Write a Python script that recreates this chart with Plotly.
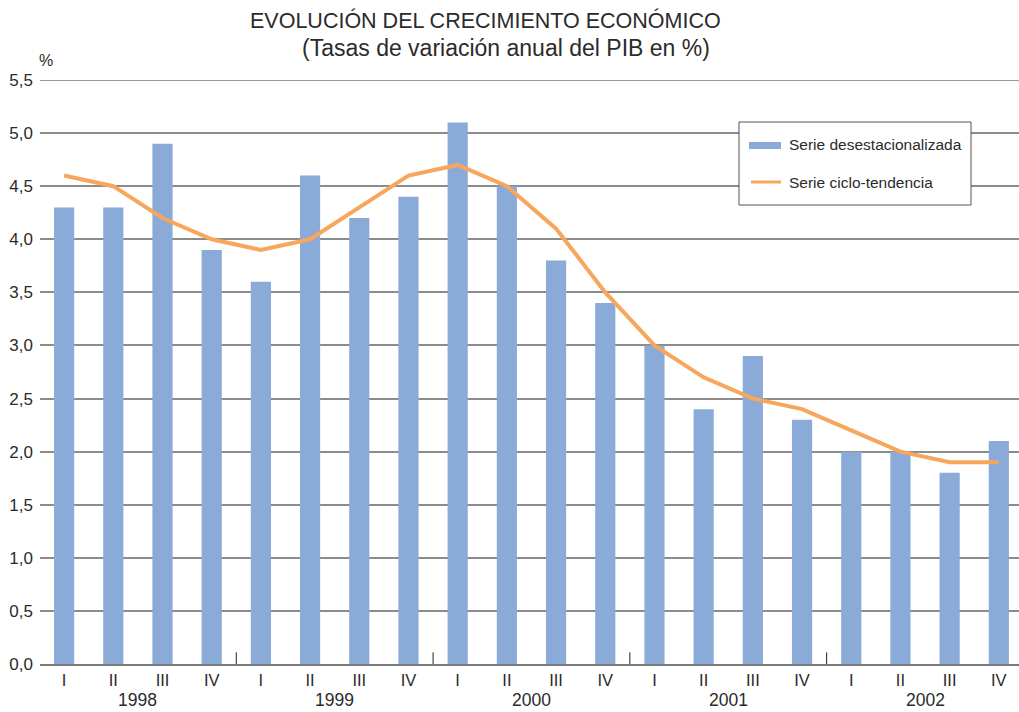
import plotly.graph_objects as go

quarters = ["I", "II", "III", "IV"] * 5
years = ["1998", "1999", "2000", "2001", "2002"]
desest = [4.3, 4.3, 4.9, 3.9,
          3.6, 4.6, 4.2, 4.4,
          5.1, 4.5, 3.8, 3.4,
          3.0, 2.4, 2.9, 2.3,
          2.0, 2.0, 1.8, 2.1]
ciclo = [4.6, 4.5, 4.2, 4.0,
         3.9, 4.0, 4.3, 4.6,
         4.7, 4.5, 4.1, 3.5,
         3.0, 2.7, 2.5, 2.4,
         2.2, 2.0, 1.9, 1.9]
yticks = [0, 0.5, 1.0, 1.5, 2.0, 2.5, 3.0, 3.5, 4.0, 4.5, 5.0, 5.5]
ytick_text = ["0,0", "0,5", "1,0", "1,5", "2,0", "2,5", "3,0", "3,5", "4,0", "4,5", "5,0", "5,5"]

W, H = 1019, 712
L, R, T, B = 40, 0, 80, 48
PW, PH = W - L - R, H - T - B

def px(x):
    return (x - L) / PW

def py(y):
    return (H - B - y) / PH

BAR = "#8aaad8"
ORANGE = "#f7a65c"
FONT = "Liberation Sans, Arial, sans-serif"
TXT = "#2b2b2b"

xs = list(range(len(desest)))

fig = go.Figure()
fig.add_trace(go.Bar(x=xs, y=desest, marker=dict(color=BAR, line=dict(width=0)),
                     width=0.41, name="Serie desestacionalizada", showlegend=False))
fig.add_trace(go.Scatter(x=xs, y=ciclo, mode="lines", line=dict(color=ORANGE, width=4),
                         name="Serie ciclo-tendencia", showlegend=False))

shapes = []
shapes.append(dict(type="line", xref="paper", yref="y", x0=0, x1=1, y0=5.5, y1=5.5,
                   line=dict(color="#333333", width=1)))
for i in range(1, len(years)):
    xv = 4 * i - 0.5
    shapes.append(dict(type="line", xref="x", yref="y", x0=xv, x1=xv, y0=0, y1=0.11,
                       line=dict(color="#222222", width=1)))
shapes.append(dict(type="rect", xref="paper", yref="paper", x0=px(739), x1=px(971),
                   y0=py(205), y1=py(122), fillcolor="white",
                   line=dict(color="#555555", width=1), layer="above"))
shapes.append(dict(type="rect", xref="paper", yref="paper", x0=px(749), x1=px(781),
                   y0=py(149), y1=py(142), fillcolor=BAR, line=dict(width=0), layer="above"))
shapes.append(dict(type="line", xref="paper", yref="paper", x0=px(751), x1=px(781),
                   y0=py(182), y1=py(182), line=dict(color=ORANGE, width=3), layer="above"))

annotations = []
annotations.append(dict(text="EVOLUCIÓN DEL CRECIMIENTO ECONÓMICO", xref="paper", yref="paper",
                        x=px(485), y=py(20), xanchor="center", yanchor="middle", showarrow=False,
                        font=dict(size=21.5, color=TXT, family=FONT)))
annotations.append(dict(text="(Tasas de variación anual del PIB en %)", xref="paper", yref="paper",
                        x=px(506), y=py(48), xanchor="center", yanchor="middle", showarrow=False,
                        font=dict(size=23, color=TXT, family=FONT)))
annotations.append(dict(text="%", xref="paper", yref="paper", x=px(46), y=py(60),
                        xanchor="center", yanchor="middle", showarrow=False,
                        font=dict(size=16, color=TXT, family=FONT)))
for i, yr in enumerate(years):
    annotations.append(dict(text=yr, xref="x", yref="paper", x=4 * i + 1.5, y=py(700),
                            xanchor="center", yanchor="middle", showarrow=False,
                            font=dict(size=17.5, color=TXT, family=FONT)))
annotations.append(dict(text="Serie desestacionalizada", xref="paper", yref="paper",
                        x=px(787), y=py(145), xanchor="left", yanchor="middle", showarrow=False,
                        font=dict(size=15.5, color=TXT, family=FONT)))
annotations.append(dict(text="Serie ciclo-tendencia", xref="paper", yref="paper",
                        x=px(787), y=py(182), xanchor="left", yanchor="middle", showarrow=False,
                        font=dict(size=15.5, color=TXT, family=FONT)))

fig.update_layout(
    width=W, height=H,
    margin=dict(l=L, r=R, t=T, b=B, pad=0),
    paper_bgcolor="white", plot_bgcolor="white",
    font=dict(family=FONT, color=TXT, size=17),
    shapes=shapes, annotations=annotations,
    xaxis=dict(tickmode="array", tickvals=xs, ticktext=quarters, range=[-0.49, 19.41],
               showgrid=False, zeroline=False, showline=True, linecolor="#7a7a7a", linewidth=2,
               ticks="", tickfont=dict(size=16.5, color=TXT, family=FONT), fixedrange=True),
    yaxis=dict(tickmode="array", tickvals=yticks, ticktext=ytick_text, range=[0, 5.5],
               showgrid=True, gridcolor="#8c8c8c", gridwidth=1.5, zeroline=False,
               showline=False, ticks="", tickfont=dict(size=17, color=TXT, family=FONT),
               ticklabelstandoff=6, fixedrange=True),
)

fig.write_html("out.html", config={"displayModeBar": False},
               post_script="document.body.style.margin='0';document.body.style.overflow='hidden';")
